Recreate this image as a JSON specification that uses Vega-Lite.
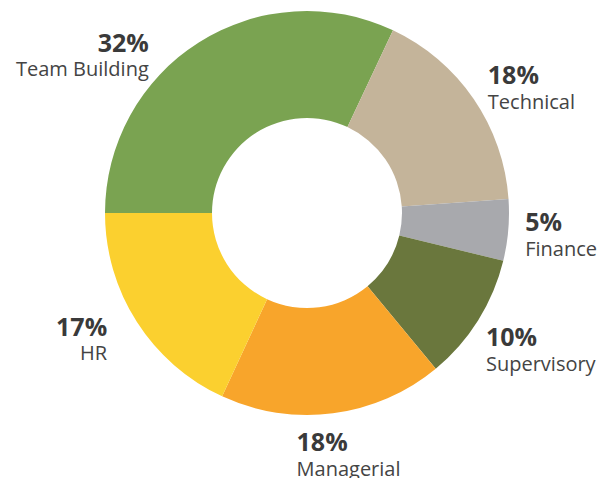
{
  "$schema": "https://vega.github.io/schema/vega-lite/v6.json",
  "width": 590,
  "height": 426,
  "autosize": {"type": "none"},
  "padding": {"left": 12, "top": 0, "right": 0, "bottom": 52},
  "background": "white",
  "view": {"stroke": null},
  "data": {
    "values": [
      {"category": "Team Building", "share": 32.0, "pct": 0.32, "rank": 1},
      {"category": "Technical", "share": 16.9, "pct": 0.18, "rank": 2},
      {"category": "Finance", "share": 4.9, "pct": 0.05, "rank": 3},
      {"category": "Supervisory", "share": 10.2, "pct": 0.10, "rank": 4},
      {"category": "Managerial", "share": 17.9, "pct": 0.18, "rank": 5},
      {"category": "HR", "share": 18.1, "pct": 0.17, "rank": 6}
    ]
  },
  "encoding": {
    "theta": {"field": "share", "type": "quantitative", "stack": true, "scale": {"range": [4.712389, 10.995574]}},
    "order": {"field": "rank", "type": "quantitative"},
    "color": {
      "field": "category",
      "type": "nominal",
      "legend": null,
      "scale": {
        "domain": ["Team Building", "Technical", "Finance", "Supervisory", "Managerial", "HR"],
        "range": ["#7AA351", "#C4B49A", "#A8A9AD", "#6A773D", "#F8A52B", "#FBD02F"]
      }
    }
  },
  "layer": [
    {"mark": {"type": "arc", "outerRadius": 202, "innerRadius": 95}},
    {
      "mark": {
        "type": "text",
        "radius": 230,
        "font": "Open Sans",
        "fontSize": 25,
        "fontWeight": "bold",
        "baseline": "alphabetic",
        "align": {"expr": "datum.category == 'Team Building' || datum.category == 'HR' ? 'right' : 'left'"},
        "dx": {"expr": "datum.category == 'Team Building' ? -35 : datum.category == 'Technical' ? -9 : datum.category == 'Finance' ? -11 : datum.category == 'Supervisory' ? -16 : datum.category == 'Managerial' ? -40 : -6"},
        "dy": {"expr": "(datum.category == 'Team Building' ? 45 : datum.category == 'Technical' ? 13 : datum.category == 'Finance' ? 11 : datum.category == 'Supervisory' ? 23 : datum.category == 'Managerial' ? 22 : 11) - 12"}
      },
      "encoding": {
        "text": {"field": "pct", "type": "quantitative", "format": ".0%"},
        "color": {"value": "#3a3a3a"}
      }
    },
    {
      "mark": {
        "type": "text",
        "radius": 230,
        "font": "Open Sans",
        "fontSize": 20,
        "baseline": "alphabetic",
        "align": {"expr": "datum.category == 'Team Building' || datum.category == 'HR' ? 'right' : 'left'"},
        "dx": {"expr": "datum.category == 'Team Building' ? -35 : datum.category == 'Technical' ? -9 : datum.category == 'Finance' ? -11 : datum.category == 'Supervisory' ? -16 : datum.category == 'Managerial' ? -40 : -6"},
        "dy": {"expr": "(datum.category == 'Team Building' ? 45 : datum.category == 'Technical' ? 13 : datum.category == 'Finance' ? 11 : datum.category == 'Supervisory' ? 23 : datum.category == 'Managerial' ? 22 : 11) + 12.5"}
      },
      "encoding": {
        "text": {"field": "category", "type": "nominal"},
        "color": {"value": "#444444"}
      }
    }
  ]
}
